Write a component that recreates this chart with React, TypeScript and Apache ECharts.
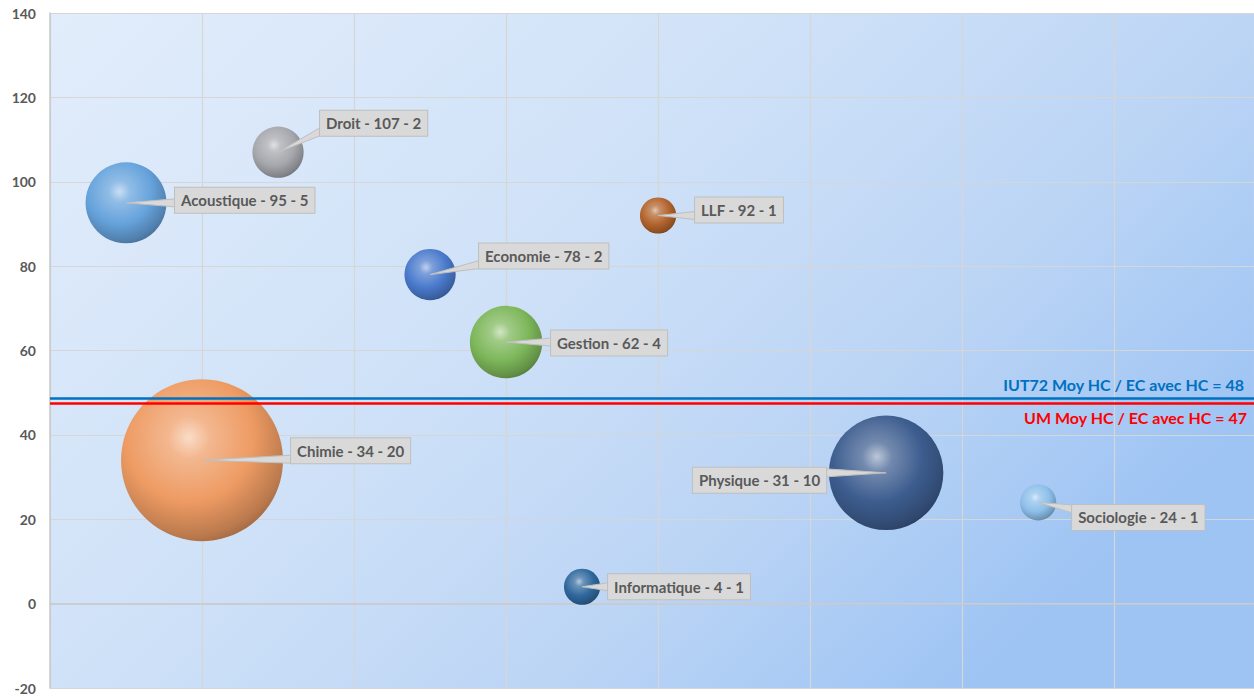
import React, { useEffect, useRef } from 'react';
import * as echarts from 'echarts';

// ---- data ----
const names = ['Acoustique', 'Chimie', 'Droit', 'Economie', 'Gestion', 'Informatique', 'LLF', 'Physique', 'Sociologie'];
const xValues = [1, 2, 3, 5, 6, 7, 8, 11, 13];
const yValues = [95, 34, 107, 78, 62, 4, 92, 31, 24];
const sizes = [5, 20, 2, 2, 4, 1, 1, 10, 1];

const meanLabels = ['IUT72 Moy HC / EC avec HC = 48', 'UM Moy HC / EC avec HC = 47'];
const meanValues = [48.6, 47.6];

const yMin = -20;
const yMax = 140;
const yStep = 20;

// ---- styles ----
const bubbleColors = ['#66a3dc', '#ee9b63', '#a6a8ae', '#4a7acc', '#7db75a', '#2f689d', '#b2632c', '#3d5d8f', '#8dbfea'];
const labelDx = [49, 89, 42, 49, 45, 26, 37, -60, 34];
const labelDy = [-2.5, -9.5, -29, -18.5, 1, 0, -5.5, 7.5, 15];
const PX_PER_SQRT = 18.1;

function mix(hex: string, target: number, t: number): string {
  const n = parseInt(hex.slice(1), 16);
  const c = [(n >> 16) & 255, (n >> 8) & 255, n & 255].map((v) => Math.round(v + (target - v) * t));
  return 'rgb(' + c.join(',') + ')';
}

function sphere(base: string) {
  return new echarts.graphic.RadialGradient(0.42, 0.36, 0.72, [
    { offset: 0, color: mix(base, 255, 0.65) },
    { offset: 0.18, color: mix(base, 255, 0.28) },
    { offset: 0.55, color: base },
    { offset: 0.85, color: mix(base, 0, 0.22) },
    { offset: 1, color: mix(base, 0, 0.4) },
  ]);
}

const seriesData = names.map((n, i) => [xValues[i], yValues[i], sizes[i], i]);

export default function App() {
  const ref = useRef<HTMLDivElement>(null);
  useEffect(() => {
    document.body.style.margin = '0';
    const chart = echarts.init(ref.current!, null, { renderer: 'svg' });
    const option: any = {
      animation: false,
      backgroundColor: '#ffffff',
      grid: {
        left: 50,
        right: 0,
        top: 13,
        bottom: 9,
        show: true,
        borderWidth: 0,
        backgroundColor: new echarts.graphic.LinearGradient(0, 0, 1, 0.6, [
          { offset: 0, color: '#e2edfb' },
          { offset: 0.44, color: '#d0e2f8' },
          { offset: 0.74, color: '#bcd5f5' },
          { offset: 1, color: '#9ec4f4' },
        ]),
      },
      xAxis: {
        type: 'value',
        min: 0,
        max: 15.84,
        interval: 2,
        axisLabel: { show: false },
        axisTick: { show: false },
        axisLine: { show: true, lineStyle: { color: '#c8c8c8', width: 1.5 } },
        splitLine: { show: true, lineStyle: { color: '#d6d6d6', width: 1.2 } },
      },
      yAxis: {
        type: 'value',
        min: yMin,
        max: yMax,
        interval: yStep,
        axisLabel: {
          color: '#595959',
          fontWeight: 'bold',
          fontSize: 14,
          fontFamily: 'Lato',
          margin: 14,
        },
        axisTick: { show: false },
        axisLine: { show: true, lineStyle: { color: '#c8c8c8', width: 1.5 } },
        splitLine: { show: true, lineStyle: { color: '#d6d6d6', width: 1.2 } },
      },
      series: [
        {
          type: 'custom',
          data: seriesData,
          clip: false,
          renderItem: (params: any, api: any) => {
            const i = api.value(3);
            const pt = api.coord([api.value(0), api.value(1)]);
            const cx = pt[0];
            const cy = pt[1];
            const r = PX_PER_SQRT * Math.sqrt(api.value(2));
            const edgeX = cx + labelDx[i];
            const midY = cy + labelDy[i];
            const top = midY - 12.5;
            const bottom = midY + 12.5;
            const by = Math.min(Math.max(cy, top + 4), bottom - 4);
            const rightSide = labelDx[i] > 0;
            return {
              type: 'group',
              children: [
                {
                  type: 'circle',
                  shape: { cx, cy, r },
                  style: { fill: sphere(bubbleColors[i]) },
                },
                {
                  type: 'polygon',
                  shape: { points: [[cx, cy], [edgeX, by - 4], [edgeX, by + 4]] },
                  style: { fill: '#d9d9d9', stroke: '#bfbfbf', lineWidth: 1 },
                },
                {
                  type: 'text',
                  x: edgeX,
                  y: midY,
                  style: {
                    text: names[i] + ' - ' + yValues[i] + ' - ' + sizes[i],
                    fill: '#595959',
                    font: 'bold 15px Lato',
                    align: rightSide ? 'left' : 'right',
                    verticalAlign: 'middle',
                    lineHeight: 17,
                    backgroundColor: '#d9d9d9',
                    borderColor: '#bfbfbf',
                    borderWidth: 1,
                    padding: [4, 6, 4, 6],
                  },
                },
              ],
            };
          },
          markLine: {
            silent: true,
            symbol: 'none',
            data: [
              {
                yAxis: meanValues[0],
                lineStyle: { color: '#0070c0', width: 2.5, type: 'solid' },
                label: {
                  show: true,
                  position: 'insideEndTop',
                  formatter: meanLabels[0],
                  color: '#0070c0',
                  fontWeight: 'bold',
                  fontSize: 16,
                  fontFamily: 'Lato',
                  distance: [10, 6],
                },
              },
              {
                yAxis: meanValues[1],
                lineStyle: { color: '#ff0000', width: 2.5, type: 'solid' },
                label: {
                  show: true,
                  position: 'insideEndBottom',
                  formatter: meanLabels[1],
                  color: '#ff0000',
                  fontWeight: 'bold',
                  fontSize: 16,
                  fontFamily: 'Lato',
                  distance: [7, 7],
                },
              },
            ],
          },
        },
      ],
    };
    chart.setOption(option);
    return () => chart.dispose();
  }, []);
  return <div ref={ref} style={{ width: 1254, height: 697 }} />;
}
